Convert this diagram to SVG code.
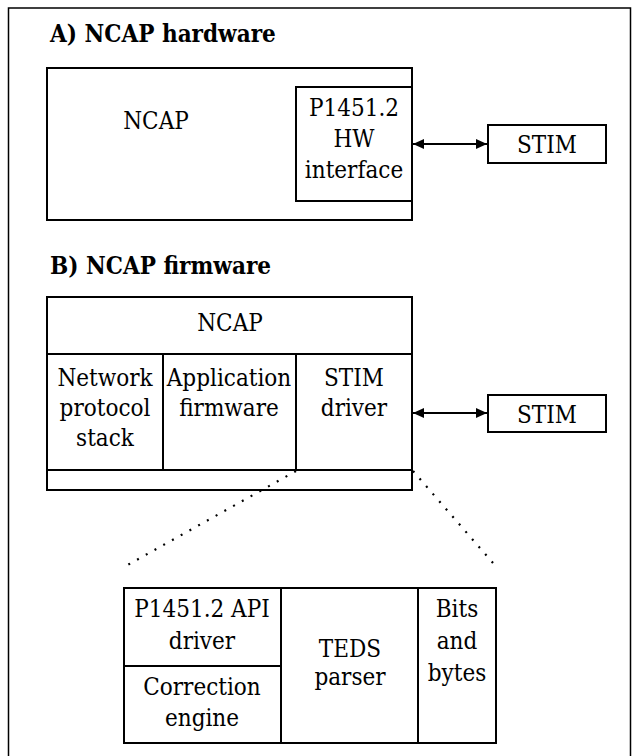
<svg xmlns="http://www.w3.org/2000/svg" width="637" height="756" viewBox="0 0 637 756">
<style>
.box{fill:none;stroke:#000;stroke-width:2}
.t{font-family:'DejaVu Serif Condensed','DejaVu Serif',serif;font-stretch:condensed;font-size:24px;fill:#000;text-anchor:middle}
.h{font-family:'DejaVu Serif Condensed','DejaVu Serif',serif;font-stretch:condensed;font-size:24px;font-weight:bold;fill:#000}
.arrow{stroke:#000;stroke-width:2;fill:none;marker-start:url(#ah);marker-end:url(#ah)}
.dot{stroke:#000;stroke-width:2.2;fill:none;stroke-dasharray:2 8}
</style>
<defs>
<marker id="ah" markerUnits="userSpaceOnUse" markerWidth="12" markerHeight="10" refX="11" refY="5" orient="auto-start-reverse">
<path d="M0,0 L11,5 L0,10 z" fill="#000"/>
</marker>
</defs>
<rect x="8.5" y="8" width="622" height="760" fill="none" stroke="#000" stroke-width="1.5"/>
<text class="h" x="50" y="42">A) NCAP hardware</text>
<text class="h" x="50" y="274">B) NCAP firmware</text>
<g id="ncap-hw">
<rect class="box" x="47" y="68" width="365" height="152"/>
<text class="t" x="156" y="129">NCAP</text>
</g>
<g id="hw-interface">
<rect class="box" x="296" y="87" width="116" height="114"/>
<text class="t" x="354" y="116">P1451.2</text>
<text class="t" x="354" y="147">HW</text>
<text class="t" x="354" y="178">interface</text>
</g>
<g id="stim-a">
<rect class="box" x="488" y="125" width="118" height="38"/>
<text class="t" x="547" y="153">STIM</text>
</g>
<g id="ncap-fw">
<rect class="box" x="47" y="297" width="365" height="193"/>
<line class="box" x1="47" y1="354" x2="412" y2="354"/>
<line class="box" x1="47" y1="470" x2="412" y2="470"/>
<text class="t" x="230" y="331">NCAP</text>
</g>
<g id="network">
<line class="box" x1="163" y1="354" x2="163" y2="470"/>
<text class="t" x="105" y="386">Network</text>
<text class="t" x="105" y="416">protocol</text>
<text class="t" x="105" y="446">stack</text>
</g>
<g id="application">
<line class="box" x1="296" y1="354" x2="296" y2="470"/>
<text class="t" x="229" y="386">Application</text>
<text class="t" x="229" y="416">firmware</text>
</g>
<g id="stim-driver">
<text class="t" x="354" y="386">STIM</text>
<text class="t" x="354" y="416">driver</text>
</g>
<g id="stim-b">
<rect class="box" x="488" y="395" width="118" height="37"/>
<text class="t" x="547" y="423">STIM</text>
</g>
<g id="detail">
<rect class="box" x="124" y="588" width="372" height="155"/>
<line class="box" x1="281" y1="588" x2="281" y2="743"/>
<line class="box" x1="418" y1="588" x2="418" y2="743"/>
<line class="box" x1="124" y1="666" x2="281" y2="666"/>
</g>
<g id="api-driver">
<text class="t" x="202" y="617">P1451.2 API</text>
<text class="t" x="202" y="649">driver</text>
</g>
<g id="correction">
<text class="t" x="202" y="695">Correction</text>
<text class="t" x="202" y="726">engine</text>
</g>
<g id="teds">
<text class="t" x="350" y="657">TEDS</text>
<text class="t" x="350" y="685">parser</text>
</g>
<g id="bits">
<text class="t" x="457" y="617">Bits</text>
<text class="t" x="457" y="649">and</text>
<text class="t" x="457" y="681">bytes</text>
</g>
<g id="connectors">
<line class="arrow" x1="413" y1="144" x2="487" y2="144"/>
<line class="arrow" x1="413" y1="413" x2="487" y2="413"/>
<line class="dot" x1="296" y1="471" x2="124" y2="567"/>
<line class="dot" x1="413" y1="471" x2="493" y2="563"/>
</g>
</svg>
